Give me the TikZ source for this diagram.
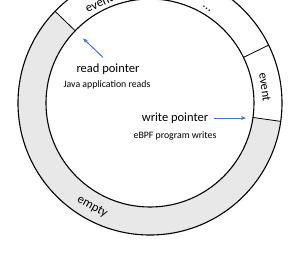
\documentclass[tikz,border=0pt]{standalone}
\usepackage{fontspec}
\setmainfont{Carlito}
\usetikzlibrary{arrows.meta}
\definecolor{RingGray}{RGB}{232,232,232}
\definecolor{PointerBlue}{RGB}{68,114,196}

\begin{document}
\begin{tikzpicture}[x=1pt, y=1pt,
    every node/.style={font=\fontsize{12.5}{15}\selectfont, inner sep=1pt},
    note/.style={font=\fontsize{9.8}{12}\selectfont},
    ptr/.style={-{Stealth[length=5pt,width=4pt]}, PointerBlue, line width=1pt}]
  \useasboundingbox (-150,-157) rectangle (150,103);
  \clip (-150,-157) rectangle (150,103);
  % empty part of the ring
  \fill[RingGray] (-8:132) arc (-8:-224:132) -- (136:104) arc (136:352:104) -- cycle;
  \draw[line width=1.1pt] (0,0) circle (132) (0,0) circle (104);
  \foreach \a in {-8,26,101,136}
    \draw[line width=0.8pt] (\a:104) -- (\a:132);
  % slot labels
  \node[rotate=24] (slotA) at (117:112) {event};
  \node[rotate=-31] (slotB) at (59:110) {...};
  \node[rotate=-82] (slotC) at (8:116) {event};
  \node[rotate=-29] (slotD) at (241:119) {empty};
  % pointers
  \node (readlbl) at (-42,34) {read pointer};
  \node[note] (readnote) at (-43,18) {Java application reads};
  \node (writelbl) at (25,-15) {write pointer};
  \node[note] (writenote) at (25,-33) {eBPF program writes};
  \coordinate (readtip) at (136:93);
  \coordinate (writetip) at (96,-15);
  \draw[ptr] ([shift={(-5,5)}]readlbl.north) -- (readtip);
  \draw[ptr] ([xshift=5pt]writelbl.east) -- (writetip);
\end{tikzpicture}
\end{document}
